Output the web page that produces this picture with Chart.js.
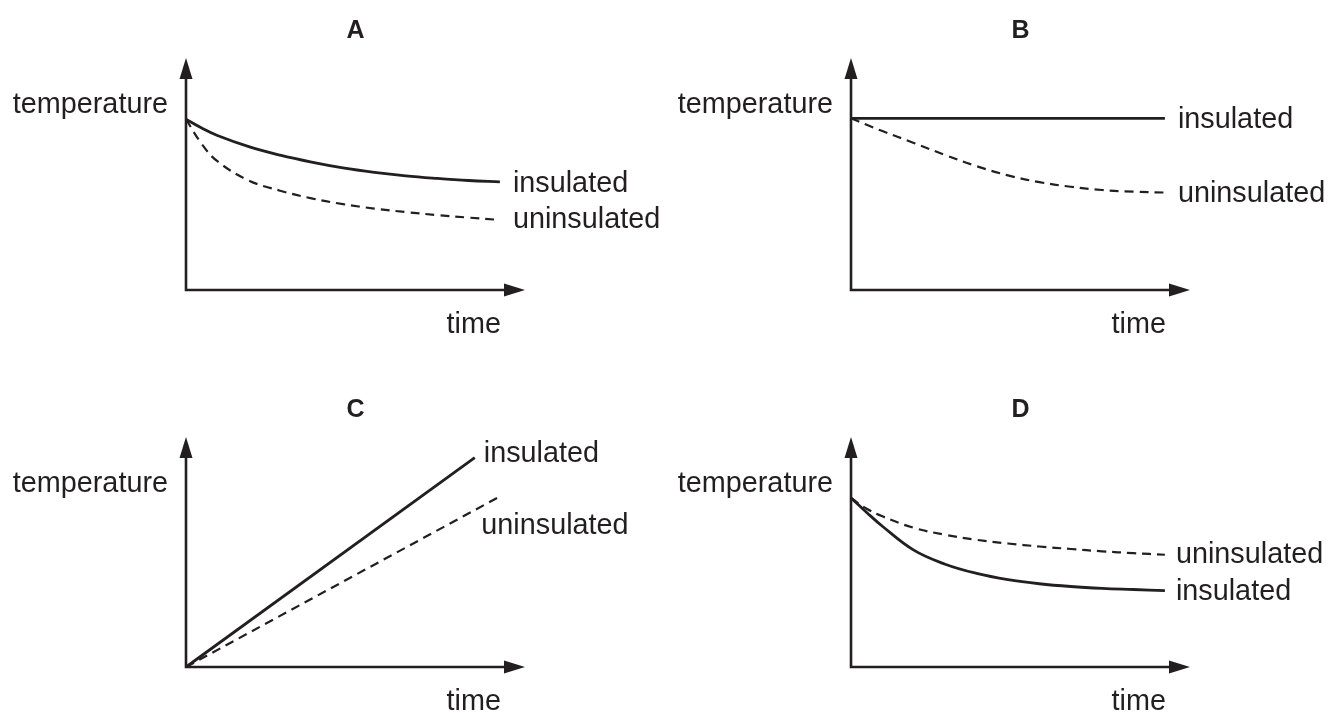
<!DOCTYPE html>
<html>
<head>
<meta charset="utf-8">
<script src="https://cdn.jsdelivr.net/npm/chart.js@4/dist/chart.umd.min.js"></script>
<style>
  body { margin: 0; background: #fff; }
  #wrap { position: relative; width: 1330px; height: 713px; }
  canvas { position: absolute; }
</style>
</head>
<body>
<div id="wrap">
  <canvas id="chartA" width="665" height="357" style="left:0;top:0"></canvas>
  <canvas id="chartB" width="665" height="357" style="left:665px;top:0"></canvas>
  <canvas id="chartC" width="665" height="356" style="left:0;top:357px"></canvas>
  <canvas id="chartD" width="665" height="356" style="left:665px;top:357px"></canvas>
</div>
<script>
// time values (arbitrary units, axis runs 0..10.8)
const timeFine = [0, 0.5, 1, 2, 3, 4, 5, 6, 7, 8, 9, 10];

// A: both cool, insulated slower
const aInsulated   = [7.36, 6.98, 6.66, 6.18, 5.81, 5.51, 5.26, 5.07, 4.92, 4.81, 4.72, 4.66];
const aUninsulated = [7.36, 6.30, 5.55, 4.72, 4.28, 3.95, 3.70, 3.51, 3.36, 3.23, 3.12, 3.02];

// B: insulated stays flat
const bInsulated   = [7.4, 7.4, 7.4, 7.4, 7.4, 7.4, 7.4, 7.4, 7.4, 7.4, 7.4, 7.4];
const bUninsulated = [7.4, 7.12, 6.85, 6.34, 5.82, 5.34, 4.94, 4.65, 4.45, 4.31, 4.24, 4.2];

// C: both rise in straight lines
const cTimeInsulated   = [0, 9.2];
const cInsulated       = [0, 9.1];
const cTimeUninsulated = [0, 9.95];
const cUninsulated     = [0, 7.38];

// D: insulated cools faster
const dInsulated   = [7.35, 6.72, 6.12, 5.08, 4.47, 4.07, 3.80, 3.62, 3.50, 3.42, 3.37, 3.32];
const dUninsulated = [7.35, 6.88, 6.55, 6.05, 5.75, 5.53, 5.37, 5.24, 5.13, 5.03, 4.95, 4.88];

const ink = '#231f20';
const font = "'Liberation Sans', Arial, Helvetica, sans-serif";

let toPoints = (xs, ys) => xs.map((x, i) => ({ x: x, y: ys[i] }));

// axes with arrow heads, axis words, panel letter and line-end labels
const sketchPlugin = {
    id: 'sketch',
    afterDatasetsDraw(chart, args, opts) {
        const ctx = chart.ctx;
        const area = chart.chartArea;
        const sx = chart.scales.x;
        const sy = chart.scales.y;
        const x0 = sx.getPixelForValue(0);
        const y0 = sy.getPixelForValue(0);
        const xTip = sx.getPixelForValue(sx.max);
        const yTip = sy.getPixelForValue(sy.max);
        ctx.save();
        ctx.strokeStyle = ink;
        ctx.fillStyle = ink;
        ctx.lineWidth = 2.6;
        ctx.lineCap = 'butt';
        ctx.setLineDash([]);
        ctx.beginPath();
        ctx.moveTo(x0, yTip + 15);
        ctx.lineTo(x0, y0);
        ctx.lineTo(xTip - 15, y0);
        ctx.stroke();
        // arrow heads
        ctx.beginPath();
        ctx.moveTo(x0, yTip);
        ctx.lineTo(x0 - 6.5, yTip + 21);
        ctx.lineTo(x0 + 6.5, yTip + 21);
        ctx.closePath();
        ctx.fill();
        ctx.beginPath();
        ctx.moveTo(xTip, y0);
        ctx.lineTo(xTip - 21, y0 - 6.5);
        ctx.lineTo(xTip - 21, y0 + 6.5);
        ctx.closePath();
        ctx.fill();

        ctx.font = '28.8px ' + font;
        ctx.textBaseline = 'alphabetic';
        ctx.textAlign = 'right';
        ctx.fillText('temperature', x0 - 18, area.top + 55);
        ctx.fillText('time', xTip - 24, y0 + 43);

        ctx.textAlign = 'left';
        chart.data.datasets.forEach((ds, i) => {
            const meta = chart.getDatasetMeta(i);
            const last = meta.data[meta.data.length - 1];
            ctx.fillText(ds.label, last.x + ds.labelDx, last.y + ds.labelDy);
        });

        ctx.font = 'bold 25px ' + font;
        ctx.textAlign = 'center';
        ctx.fillText(opts.letter, (x0 + xTip) / 2, area.top - 20);
        ctx.restore();
    }
};

let makePanel = (id, letter, datasets, padTop, padBottom) => {
    return new Chart(id, {
        type: 'line',
        data: { datasets: datasets },
        options: {
            responsive: false,
            animation: false,
            events: [],
            layout: { padding: { left: 186, right: 140, top: padTop, bottom: padBottom } },
            elements: { point: { radius: 0 } },
            scales: {
                x: { type: 'linear', min: 0, max: 10.8, display: false },
                y: { type: 'linear', min: 0, max: 10, display: false }
            },
            plugins: {
                legend: { display: false },
                tooltip: { enabled: false },
                sketch: { letter: letter }
            }
        },
        plugins: [sketchPlugin]
    });
};

let solid = (label, pts, dx, dy, tension) => ({
    label: label, data: pts, borderColor: ink, borderWidth: 2.8,
    tension: tension, clip: false, labelDx: dx, labelDy: dy
});
let dashed = (label, pts, dx, dy, tension) => ({
    label: label, data: pts, borderColor: ink, borderWidth: 2.2, borderDash: [9, 6],
    tension: tension, clip: false, labelDx: dx, labelDy: dy
});

makePanel('chartA', 'A', [
    solid('insulated', toPoints(timeFine, aInsulated), 13, 10, 0.4),
    dashed('uninsulated', toPoints(timeFine, aUninsulated), 13, 8, 0.4)
], 58, 67);

makePanel('chartB', 'B', [
    solid('insulated', toPoints(timeFine, bInsulated), 13, 10, 0.4),
    dashed('uninsulated', toPoints(timeFine, bUninsulated), 13, 9, 0.4)
], 58, 67);

makePanel('chartC', 'C', [
    solid('insulated', toPoints(cTimeInsulated, cInsulated), 9, 4, 0),
    dashed('uninsulated', toPoints(cTimeUninsulated, cUninsulated), -17, 37, 0)
], 80, 46);

makePanel('chartD', 'D', [
    dashed('uninsulated', toPoints(timeFine, dUninsulated), 11, 8, 0.4),
    solid('insulated', toPoints(timeFine, dInsulated), 11, 9, 0.4)
], 80, 46);
</script>
</body>
</html>
